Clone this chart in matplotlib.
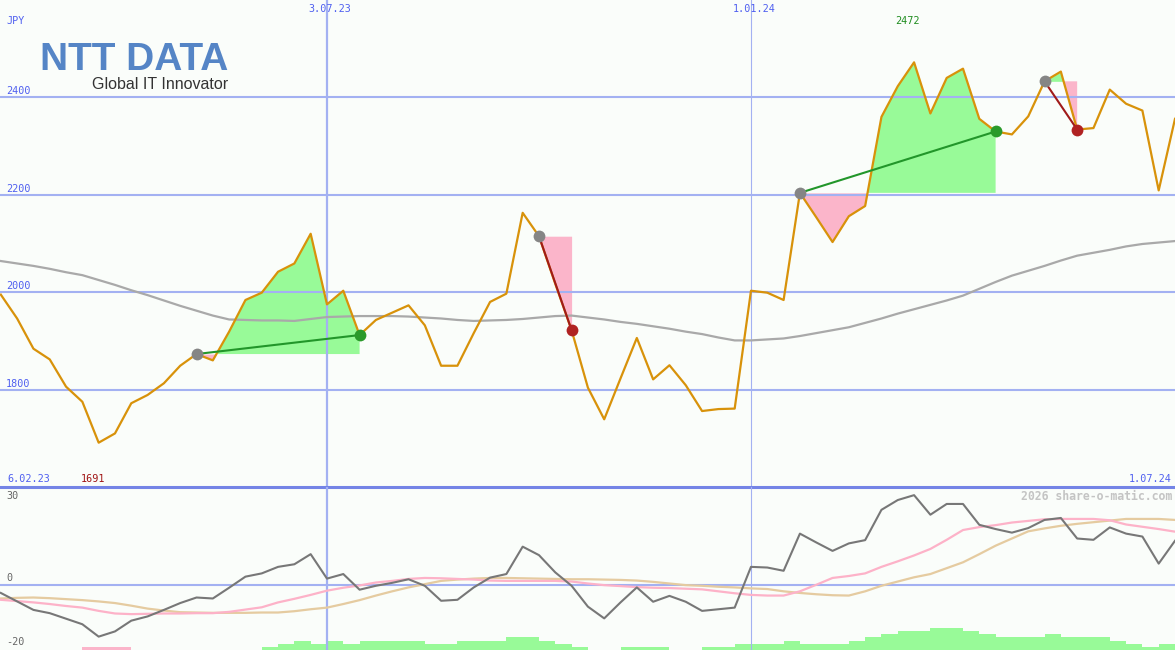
import numpy as np
import matplotlib
matplotlib.use("Agg")
import matplotlib.pyplot as plt
from matplotlib.transforms import blended_transform_factory as btf

# ---------------- data (weekly, week 0 = 6.02.23) ----------------
weeks = np.arange(1, 74)

price = [1995, 1946, 1884, 1862, 1806, 1775, 1691, 1710, 1772, 1789,
         1813, 1849, 1873, 1860, 1919, 1984, 1999, 2042, 2059, 2120,
         1975, 2003, 1912, 1943, 1958, 1973, 1932, 1849, 1849, 1916,
         1980, 1997, 2163, 2115, 2017, 1922, 1804, 1739, 1823, 1906,
         1821, 1850, 1809, 1756, 1760, 1761, 2003, 1999, 1984, 2204,
         2154, 2103, 2156, 2177, 2360, 2423, 2472, 2367, 2440, 2459,
         2356, 2330, 2324, 2361, 2433, 2453, 2334, 2337, 2416, 2387,
         2373, 2209, 2356]

moving_avg = [2064, 2059, 2054, 2048, 2041, 2035, 2025, 2015, 2004, 1994,
              1983, 1972, 1962, 1952, 1944, 1943, 1942, 1942, 1941, 1945,
              1949, 1950, 1951, 1951, 1951, 1950, 1948, 1946, 1943, 1941,
              1942, 1943, 1945, 1948, 1951, 1952, 1948, 1944, 1939, 1935,
              1930, 1925, 1919, 1914, 1907, 1901, 1901, 1903, 1905, 1910,
              1916, 1922, 1928, 1937, 1946, 1956, 1965, 1974, 1983, 1993,
              2007, 2021, 2034, 2044, 2054, 2065, 2075, 2081, 2087, 2094,
              2099, 2102, 2105]

oscillator = [-2.5, -5.1, -7.7, -8.7, -10.4, -12.1, -15.9, -14.3, -11.0, -9.7,
              -7.7, -5.6, -3.9, -4.2, -0.9, 2.5, 3.5, 5.5, 6.3, 9.4,
              1.9, 3.3, -1.5, -0.3, 0.6, 1.7, -0.3, -4.9, -4.6, -0.8,
              2.2, 3.3, 11.7, 9.1, 3.8, -0.3, -6.7, -10.3, -5.4, -0.8,
              -5.2, -3.4, -5.2, -8.0, -7.5, -7.0, 5.5, 5.3, 4.3, 15.7,
              13.0, 10.4, 12.7, 13.7, 23.0, 26.0, 27.5, 21.5, 24.8, 24.8,
              18.4, 17.1, 16.0, 17.4, 19.9, 20.5, 14.2, 13.8, 17.6, 15.7,
              14.8, 6.5, 13.5]

signal_fast = [-4.6, -5.0, -5.4, -5.9, -6.5, -7.0, -8.0, -8.8, -9.0, -8.9,
               -8.8, -8.8, -8.7, -8.7, -8.3, -7.6, -6.9, -5.4, -4.3, -3.1,
               -1.8, -0.9, -0.2, 0.7, 1.2, 1.8, 2.1, 2.0, 1.8, 1.6,
               1.3, 1.2, 1.2, 1.2, 1.2, 1.0, 0.4, -0.1, -0.4, -0.7,
               -0.9, -1.0, -1.2, -1.4, -2.0, -2.6, -3.1, -3.3, -3.3, -2.0,
               0.0, 2.1, 2.7, 3.5, 5.5, 7.2, 9.0, 11.0, 13.8, 16.8,
               17.7, 18.3, 19.1, 19.6, 20.1, 20.2, 20.2, 20.2, 19.8, 18.5,
               17.8, 17.1, 16.3]

signal_slow = [-4.2, -4.0, -3.9, -4.1, -4.4, -4.7, -5.1, -5.6, -6.4, -7.3,
               -7.9, -8.4, -8.5, -8.6, -8.6, -8.6, -8.5, -8.5, -8.1, -7.5,
               -7.0, -5.9, -4.7, -3.3, -2.0, -0.8, 0.2, 1.2, 1.6, 1.9,
               2.1, 2.1, 2.0, 1.9, 1.8, 1.7, 1.7, 1.6, 1.5, 1.3,
               0.9, 0.4, -0.1, -0.3, -0.6, -0.8, -1.1, -1.3, -2.0, -2.5,
               -2.9, -3.2, -3.3, -2.0, -0.3, 1.0, 2.3, 3.3, 5.1, 6.9,
               9.4, 12.0, 14.2, 16.4, 17.3, 18.1, 18.7, 19.2, 19.7, 20.2,
               20.2, 20.2, 19.9]

histogram = [0, 0, 0, 0, 0, -1, -1, -1, 0, 0,
             0, 0, 0, 0, 0, 0, 1, 2, 3, 2,
             3, 2, 3, 3, 3, 3, 2, 2, 3, 3,
             3, 4, 4, 3, 2, 1, 0, 0, 1, 1,
             1, 0, 0, 1, 1, 2, 2, 2, 3, 2,
             2, 2, 3, 4, 5, 6, 6, 7, 7, 6,
             5, 4, 4, 4, 5, 4, 4, 4, 3, 2,
             1, 2, 0]

trade_entry_week = [13, 34, 50, 65]
trade_exit_week = [23, 36, 62, 67]

price_ticks = [1800, 2000, 2200, 2400]
date_marks = {21: "3.07.23", 47: "1.01.24"}
start_label, end_label = "6.02.23", "1.07.24"
max_label, min_label = "2472", "1691"

# ---------------- style ----------------
BG = "#FAFDFA"
GRID = "#A3B1F2"
SEP = "#7484E6"
LBL = "#4F5FF0"
ORANGE = "#D8920A"
GAIN_FILL = "#98FA98"
LOSS_FILL = "#FBB5CA"
MONO = "DejaVu Sans Mono"

W, H = 1175, 650
fig = plt.figure(figsize=(W / 100, H / 100), dpi=100, facecolor=BG)
top_px = 487
ax1 = fig.add_axes([0, (H - top_px) / H, 1, top_px / H])
ax2 = fig.add_axes([0, 0, 1, (H - top_px) / H])
for ax in (ax1, ax2):
    ax.set_axis_off()
    ax.set_xlim(0.95, 73.0)
ax1.set_ylim(1600, 2600)
ax2.set_ylim(-20, 30)

price_a = np.array(price, dtype=float)

# price grid + date lines
for p in price_ticks:
    ax1.axhline(p, color=GRID, lw=1.5, zorder=2)
for wk in date_marks:
    lw = 1.6 if wk == 21 else 0.8
    ax1.axvline(wk, color=GRID, lw=lw, zorder=2)
    ax2.axvline(wk, color=GRID, lw=lw, zorder=2)

# trades
for e, x in zip(trade_entry_week, trade_exit_week):
    sl = slice(e - 1, x)
    ww = weeks[sl]
    pp = price_a[sl]
    lvl = price_a[e - 1]
    ax1.fill_between(ww, pp, lvl, where=pp >= lvl, interpolate=True,
                     color=GAIN_FILL, lw=0, zorder=1)
    ax1.fill_between(ww, pp, lvl, where=pp <= lvl, interpolate=True,
                     color=LOSS_FILL, lw=0, zorder=1)

ax1.plot(weeks, moving_avg, color="#A9A9A9", lw=1.6, zorder=3)
ax1.plot(weeks, price, color=ORANGE, lw=1.6, zorder=4)

for e, x in zip(trade_entry_week, trade_exit_week):
    pe, px_ = price_a[e - 1], price_a[x - 1]
    win = px_ > pe
    lc = "#22962A" if win else "#A01A1A"
    dc = "#2A9A2A" if win else "#B02222"
    ax1.plot([e, x], [pe, px_], color=lc, lw=1.5, zorder=5)
    ax1.plot([e], [pe], "o", ms=8.5, color="#858585", mec="none", zorder=6)
    ax1.plot([x], [px_], "o", ms=8.5, color=dc, mec="none", zorder=6)

# labels main panel
bl1 = btf(ax1.transAxes, ax1.transData)
for p in price_ticks:
    ax1.text(6 / W, p + 12.5, str(p), transform=bl1, color=LBL,
             family=MONO, fontsize=7.3, va="center", ha="left")
ax1.text(6 / W, 2557, "JPY", transform=bl1, color=LBL, family=MONO,
         fontsize=7.3, va="center", ha="left")
for wk, lab in date_marks.items():
    ax1.text(wk + 0.18, 2581, lab, color=LBL, family=MONO, fontsize=7.3,
             va="center", ha="center")
ax1.text(56.6, 2557, max_label, color="#1E8C1E", family=MONO, fontsize=7.3,
         va="center", ha="center")
ax1.text(6.65, 1616, min_label, color="#A01414", family=MONO, fontsize=7.3,
         va="center", ha="center")
ax1.text(7 / W, 1616, start_label, transform=bl1, color=LBL, family=MONO,
         fontsize=7.3, va="center", ha="left")
ax1.text(1172 / W, 1616, end_label, transform=bl1, color=LBL, family=MONO,
         fontsize=7.3, va="center", ha="right")

# logo
fig.text(40 / W, 1 - 70 / H, "NTT DATA", color="#5585C6", family="Liberation Sans",
         weight="bold", fontsize=28, ha="left", va="baseline")
fig.text(228 / W, 1 - 89 / H, "Global IT Innovator", color="#333333",
         family="Liberation Sans", fontsize=11.5, ha="right", va="baseline")

# separator
ax1.axhline(1600, color=SEP, lw=2.2, zorder=7, clip_on=False)

# ---------------- lower panel ----------------
ax2.axhline(0, color=GRID, lw=1.5, zorder=2)
hist = np.array(histogram, dtype=float)
unit = 3.15 / 3.26
colors = [GAIN_FILL if h > 0 else LOSS_FILL for h in hist]
ax2.bar(weeks, np.abs(hist) * unit, width=1.0, align="edge", bottom=-20,
        color=colors, lw=0, zorder=1)
ax2.plot(weeks, signal_slow, color="#E5CBA0", lw=1.6, zorder=3)
ax2.plot(weeks, signal_fast, color="#FDB2C8", lw=1.6, zorder=3)
ax2.plot(weeks, oscillator, color="#777777", lw=1.5, zorder=4)

bl2 = btf(ax2.transAxes, ax2.transData)
for val, yy in ((30, 27.2), (0, 2.2), (-20, -17.5)):
    ax2.text(6 / W, yy, str(val), transform=bl2, color="#666666", family=MONO,
             fontsize=7.3, va="center", ha="left")
ax2.text(1172 / W, 27.2, "2026 share-o-matic.com", transform=bl2,
         color="#C4C4C4", family=MONO, weight="bold", fontsize=8.3,
         va="center", ha="right")

fig.savefig("out.png", dpi=100, facecolor=BG)
